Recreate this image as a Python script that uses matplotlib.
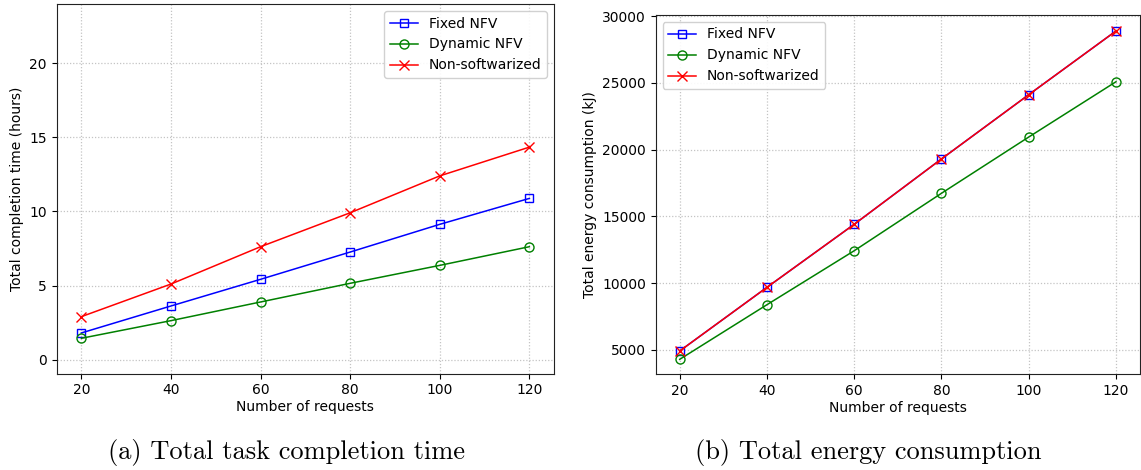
import matplotlib
matplotlib.use("Agg")
import matplotlib.pyplot as plt

requests = [20, 40, 60, 80, 100, 120]

time_fixed = [1.80, 3.62, 5.42, 7.26, 9.13, 10.88]
time_dynamic = [1.44, 2.63, 3.89, 5.15, 6.36, 7.62]
time_nonsoft = [2.90, 5.10, 7.62, 9.91, 12.40, 14.34]

energy_fixed = [4925, 9690, 14410, 19300, 24110, 28880]
energy_dynamic = [4300, 8390, 12430, 16730, 20940, 25080]
energy_nonsoft = [4925, 9690, 14410, 19300, 24110, 28880]

series_labels = ["Fixed NFV", "Dynamic NFV", "Non-softwarized"]
captions = ["(a) Total task completion time", "(b) Total energy consumption"]

plt.rcParams['font.family'] = ['DejaVu Sans']
plt.rcParams['font.size'] = 10

fig = plt.figure(figsize=(11.41, 4.70), dpi=100)
ax1 = fig.add_axes([56.7/1141, 1-373.7/470, (554-56.7)/1141, (373.7-4)/470])
ax2 = fig.add_axes([655.7/1141, 1-374.3/470, (1140-655.7)/1141, (374.3-15)/470])

def style(ax, fixed, dyn, non, loc):
    ax.plot(requests, fixed, color='blue', marker='s', mfc='none', ms=6, lw=1.1, label=series_labels[0])
    ax.plot(requests, dyn, color='green', marker='o', mfc='none', ms=6.5, lw=1.1, label=series_labels[1])
    ax.plot(requests, non, color='red', marker='x', ms=6.5, lw=1.1, label=series_labels[2])
    ax.grid(True, linestyle=(0, (1, 1.5)), color='#c4c4c4', linewidth=0.9)
    ax.set_xticks(requests)
    ax.set_xlim(14.5, 125.5)
    ax.set_xlabel("Number of requests", labelpad=2)
    for s in ax.spines.values():
        s.set_color('#222222')
    ax.legend(loc=loc, fontsize=10, framealpha=0.9, edgecolor='#cccccc', fancybox=True)

style(ax1, time_fixed, time_dynamic, time_nonsoft, 'upper right')
ax1.set_ylim(-0.95, 24.0)
ax1.set_yticks([0, 5, 10, 15, 20])
ax1.set_ylabel("Total completion time (hours)")

style(ax2, energy_fixed, energy_dynamic, energy_nonsoft, 'upper left')
ax2.set_ylim(3180, 30075)
ax2.set_yticks([5000, 10000, 15000, 20000, 25000, 30000])
ax2.set_ylabel("Total energy consumption (kJ)")

fig.text(286/1141, 1-452/470, captions[0], ha='center', va='center', fontsize=19, family='cmr10')
fig.text(868/1141, 1-452/470, captions[1], ha='center', va='center', fontsize=19, family='cmr10')

fig.savefig("out.png", dpi=100)
